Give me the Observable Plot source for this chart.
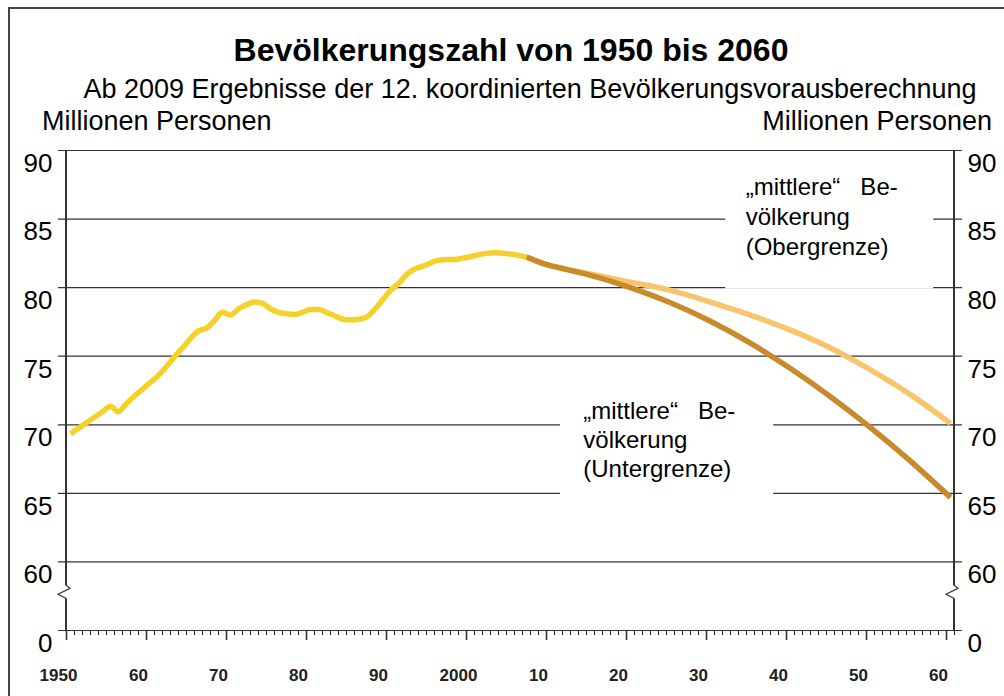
<!DOCTYPE html>
<html>
<head>
<meta charset="utf-8">
<script src="https://cdn.jsdelivr.net/npm/d3@7"></script>
<script src="https://cdn.jsdelivr.net/npm/@observablehq/plot@0.6"></script>
<style>
  html, body { margin: 0; padding: 0; background: #fff; overflow: hidden; }
  #wrap { position: relative; width: 1004px; height: 696px; overflow: hidden; font-family: "Liberation Sans", Arial, sans-serif; color: #000; }
  #frame { position: absolute; left: 8px; top: 7px; width: 1100px; height: 800px; border: 2px solid #444; z-index: 5; pointer-events: none; }
  .t { position: absolute; white-space: nowrap; line-height: 1em; }
  #title { font-weight: bold; font-size: 32px; left: 0; width: 1022px; text-align: center; top: 34px; }
  #subtitle { font-size: 27px; left: 0; width: 1060px; text-align: center; top: 76px; }
  #unitL { font-size: 27px; left: 42px; top: 108px; }
  #unitR { font-size: 27px; right: 12px; top: 108px; }
  #chart { position: absolute; left: 0; top: 135px; }
</style>
</head>
<body>
<div id="wrap">
  <div id="frame"></div>
  <div class="t" id="title">Bevölkerungszahl von 1950 bis 2060</div>
  <div class="t" id="subtitle">Ab 2009 Ergebnisse der 12. koordinierten Bevölkerungsvorausberechnung</div>
  <div class="t" id="unitL">Millionen Personen</div>
  <div class="t" id="unitR">Millionen Personen</div>
  <div id="chart"></div>
</div>
<script>
// ---- data (millions of persons) ----
const histYears = d3.range(1950, 2008);
const histPop = [
  69.35, 69.75, 70.15, 70.55, 70.95, 71.35, 70.95, 71.55, 72.10, 72.60,
  73.10, 73.60, 74.25, 74.95, 75.60, 76.30, 76.85, 77.05, 77.60, 78.20,
  78.00, 78.45, 78.75, 78.95, 78.85, 78.45, 78.20, 78.10, 78.05, 78.20,
  78.40, 78.40, 78.20, 77.95, 77.70, 77.65, 77.70, 77.85, 78.40, 79.10,
  79.80, 80.30, 80.95, 81.35, 81.55, 81.80, 82.00, 82.05, 82.05, 82.15,
  82.25, 82.40, 82.50, 82.55, 82.50, 82.45, 82.35, 82.22
];
const projYears = [2007, 2008, 2010, 2015, 2020, 2025, 2030, 2035, 2040, 2045, 2050, 2055, 2060];
const projLower = [82.22, 82.00, 81.60, 80.90, 80.00, 78.90, 77.55, 75.95, 74.10, 72.05, 69.80, 67.35, 64.70];
const projUpper = [82.22, 82.00, 81.60, 81.00, 80.40, 79.80, 78.95, 78.00, 76.90, 75.60, 74.00, 72.20, 70.10];

// axis: the value 55 stands for the broken-axis "0"
const yTicks = [55, 60, 65, 70, 75, 80, 85, 90];
const yTickLabels = ["0", "60", "65", "70", "75", "80", "85", "90"];
const xTickLabels = ["1950", "60", "70", "80", "90", "2000", "10", "20", "30", "40", "50", "60"];
const noteTexts = [
  "„mittlere“\u00a0\u00a0\u00a0Be-\nvölkerung\n(Obergrenze)",
  "„mittlere“\u00a0\u00a0\u00a0Be-\nvölkerung\n(Untergrenze)"
];

// ---- derived tables ----
const hist = histYears.map((year, i) => ({year, value: histPop[i]}));
const lower = projYears.map((year, i) => ({year, value: projLower[i]}));
const upper = projYears.map((year, i) => ({year, value: projUpper[i]}));
// category axis: each year is a band of width 1, tick marks on band edges
const xStart = histYears[0] - 0.5, xEnd = projYears[projYears.length - 1] + 0.5;
const minorTicks = d3.range(xStart, xEnd + 0.01, 1);
const majorTicks = xTickLabels.map((_, i) => xStart + 10 * i);
const ticksY = yTicks.map((v, i) => ({v, label: yTickLabels[i]}));
const ticksX = majorTicks.map((v, i) => ({v, label: xTickLabels[i]}));

const INK = "#333";
const font = "Liberation Sans, Arial, sans-serif";

function axisLines(index, scales) {
  const g = d3.create("svg:g").attr("fill", "none").attr("stroke", INK);
  const top = scales.y(90), bot = scales.y(55), yb = scales.y(57.75);
  for (const xv of [xStart, xEnd]) {
    const x = scales.x(xv);
    g.append("path").attr("stroke-width", 2)
      .attr("d", `M${x},${top}V${yb - 7}`);
    g.append("path").attr("stroke-width", 1.2)
      .attr("d", `M${x},${yb - 7}L${x + 4},${yb - 4}L${x - 8},${yb + 2}L${x},${yb + 6}`);
    g.append("path").attr("stroke-width", 2)
      .attr("d", `M${x},${yb + 6}V${bot}`);
  }
  return g.node();
}

const lineStyle = {x: "year", y: "value", strokeWidth: 5.5, strokeLinecap: "butt", strokeLinejoin: "round"};

const chart = Plot.plot({
  width: 1004,
  height: 561,
  marginTop: 15,
  marginBottom: 66,
  marginLeft: 66,
  marginRight: 50,
  x: {domain: [xStart, xEnd]},
  y: {domain: [55, 90], axis: null},
  style: {fontFamily: font, background: "transparent", color: "black", overflow: "visible"},
  marks: [
    // gridlines (extend past the axes like outer ticks)
    Plot.ruleY(yTicks, {stroke: INK, strokeWidth: 1.2, insetLeft: -8, insetRight: -8}),
    // white boxes behind the annotations
    Plot.rect([0], {x1: 2031.9, x2: 2057.9, y1: 79.9, y2: 89.5, fill: "white"}),
    Plot.rect([0], {x1: 2011.25, x2: 2037.9, y1: 63.5, y2: 72.6, fill: "white"}),
    // series
    Plot.line(upper, {...lineStyle, stroke: "#F8C56E", curve: "natural"}),
    Plot.line(lower, {...lineStyle, stroke: "#C88B2C", curve: "natural"}),
    Plot.line(hist, {...lineStyle, stroke: "#F5D22A", curve: "monotone-x"}),
    // axes
    axisLines,
    Plot.axisX({ticks: minorTicks, tickSize: 5, fill: "none", stroke: INK, strokeWidth: 1.1}),
    Plot.axisX({ticks: majorTicks, tickSize: 10, fill: "none", stroke: INK, strokeWidth: 1.6}),
    Plot.text(ticksX, {x: "v", y: () => 55, text: "label", dy: 45, dx: -8, fontSize: 17, fontWeight: "bold", fill: "#222"}),
    Plot.text(ticksY, {x: () => xStart, y: "v", text: "label", textAnchor: "end", dx: -14, dy: 13, fontSize: 26, fill: "black"}),
    Plot.text(ticksY, {x: () => xEnd, y: "v", text: "label", textAnchor: "start", dx: 13, dy: 13, fontSize: 26, fill: "black"}),
    // annotations
    Plot.text([noteTexts[0]], {x: () => 2034.4, y: () => 88.32, text: d => d, textAnchor: "start", lineAnchor: "top", lineHeight: 1.25, fontSize: 24, fill: "black"}),
    Plot.text([noteTexts[1]], {x: () => 2014.1, y: () => 71.92, text: d => d, textAnchor: "start", lineAnchor: "top", lineHeight: 1.2, fontSize: 24, fill: "black"})
  ]
});
document.getElementById("chart").appendChild(chart);
</script>
</body>
</html>
